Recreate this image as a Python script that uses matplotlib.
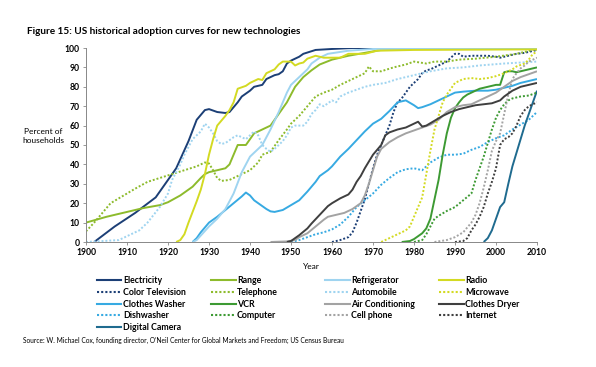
import matplotlib
matplotlib.use("Agg")
import matplotlib.pyplot as plt
from matplotlib.lines import Line2D

# ---------------- data ----------------
electricity_years = [1902, 1907, 1912, 1917, 1920, 1922, 1925, 1927, 1929, 1930, 1932, 1934, 1935, 1937, 1938, 1940, 1941, 1943, 1944, 1946, 1947, 1948, 1949, 1950, 1952, 1953, 1956, 1960, 1965, 2010]
electricity_vals = [0, 8, 15, 23, 32, 38, 52, 63, 68, 68.5, 67, 66.5, 67, 72, 75, 78, 80, 81, 84, 86, 86.5, 88, 92, 93.5, 95.5, 97, 99, 99.5, 100, 100]

color_tv_years = [1960, 1962, 1964, 1965, 1966, 1967, 1968, 1969, 1970, 1971, 1972, 1973, 1974, 1975, 1976, 1977, 1978, 1979, 1980, 1981, 1982, 1983, 1984, 1985, 1986, 1987, 1988, 1989, 1990, 1991, 1992, 1994, 1996, 1998, 2000, 2001, 2003, 2005, 2007, 2009, 2010]
color_tv_vals = [0, 1, 2.5, 5, 10, 16, 22, 30, 38, 45, 50, 55, 60, 67, 72, 74, 77, 80, 82, 84, 87, 88.5, 89, 90, 91, 92, 93, 95, 97, 97, 95.5, 96, 96, 96, 95.5, 95, 96, 97, 97.5, 98.5, 99]

range_years = [1900, 1905, 1910, 1914, 1918, 1920, 1923, 1926, 1928, 1929, 1930, 1932, 1934, 1935, 1937, 1939, 1940, 1941, 1943, 1945, 1947, 1949, 1951, 1953, 1955, 1957, 1960, 1964, 1968, 1972, 1980, 2010]
range_vals = [10, 13, 15.5, 17.5, 19, 20.5, 24, 28.5, 33, 35, 36, 37, 38, 40, 50, 50, 53, 56, 58, 60, 66, 72, 80, 85, 88.5, 91.5, 94, 96, 97.5, 99, 99.5, 100]

telephone_years = [1900, 1902, 1904, 1906, 1908, 1910, 1912, 1915, 1918, 1921, 1924, 1927, 1929, 1930, 1931, 1932, 1933, 1935, 1937, 1940, 1942, 1943, 1945, 1947, 1949, 1950, 1952, 1954, 1956, 1958, 1960, 1962, 1964, 1966, 1968, 1969, 1970, 1972, 1975, 1978, 1980, 1983, 1985, 1988, 1991, 1995, 2000, 2005, 2009, 2010]
telephone_vals = [5.5, 10, 15, 20, 22.5, 25, 27.5, 31, 33, 35, 37, 39, 41, 40.5, 37, 33, 31.5, 32, 34, 37, 41, 45, 46.5, 52.5, 58, 61, 65, 70, 75, 77, 78.5, 81, 83, 85, 87, 90.5, 88, 88, 90, 91.5, 93, 92, 93, 93, 94, 94.5, 95.5, 97, 99, 99]

refrigerator_years = [1926, 1927, 1930, 1932, 1934, 1936, 1938, 1940, 1942, 1943, 1945, 1947, 1949, 1950, 1952, 1954, 1955, 1957, 1959, 1964, 1970, 2010]
refrigerator_vals = [0, 1, 8, 12, 17, 25, 36, 44, 48, 50, 58, 67, 77, 81, 85, 89, 92, 95, 97, 98.6, 99.5, 100]

automobile_years = [1900, 1908, 1911, 1913, 1915, 1918, 1920, 1921, 1923, 1924, 1926, 1928, 1929, 1930, 1931, 1932, 1933, 1934, 1936, 1937, 1938, 1939, 1940, 1941, 1942, 1943, 1944, 1945, 1946, 1947, 1948, 1949, 1950, 1951, 1953, 1954, 1955, 1956, 1957, 1958, 1960, 1961, 1962, 1964, 1966, 1968, 1970, 1973, 1976, 1980, 1984, 1988, 1992, 1996, 2002, 2010]
automobile_vals = [0, 1, 4, 6, 10, 18, 25, 32, 40, 45, 53, 57, 61, 59, 56, 52, 50.5, 51, 54, 55, 54, 53, 55, 57, 55, 50, 48, 46.5, 48, 50, 52, 55, 59, 60, 60, 62, 66, 68, 71, 70, 73, 72, 75, 77, 78.5, 80, 81, 82, 84, 86, 88, 89.5, 90, 91, 92, 93]

radio_years = [1922, 1923, 1924, 1925, 1927, 1928, 1929, 1930, 1931, 1932, 1934, 1935, 1936, 1937, 1939, 1940, 1942, 1943, 1944, 1945, 1946, 1947, 1948, 1950, 1951, 1952, 1953, 1954, 1956, 1958, 1960, 1962, 1964, 1968, 1971, 1980, 2010]
radio_vals = [0, 1, 4, 10, 21, 27, 35, 45, 53, 60, 65, 68, 72, 79, 80.5, 82, 84, 83.5, 87, 88, 89, 91.5, 93, 93, 91, 92, 92.5, 94.5, 96, 95, 95, 95, 97, 97, 98.6, 99, 99.3]

microwave_years = [1972, 1975, 1978, 1979, 1980, 1981, 1982, 1983, 1984, 1985, 1986, 1987, 1988, 1989, 1990, 1992, 1994, 1996, 1998, 2000, 2002, 2004, 2005, 2007, 2008, 2009, 2010]
microwave_vals = [0, 3, 6, 8, 13, 18, 23, 35, 47, 58, 65, 72, 76, 79, 82, 84, 84.5, 84, 84.5, 85.5, 87, 89, 90.5, 92, 94, 97, 98]

washer_years = [1926, 1927, 1928, 1930, 1932, 1934, 1936, 1938, 1939, 1940, 1941, 1942, 1944, 1945, 1946, 1947, 1948, 1950, 1952, 1954, 1956, 1957, 1959, 1960, 1962, 1964, 1966, 1968, 1970, 1972, 1974, 1976, 1978, 1980, 1981, 1982, 1984, 1986, 1988, 1990, 1992, 1995, 1998, 2000, 2002, 2004, 2006, 2008, 2010]
washer_vals = [0, 2, 5, 10, 13, 16.5, 20, 23.5, 25.5, 24, 21.5, 20, 17, 15.8, 15.5, 16, 16.5, 19, 21.5, 26, 31, 34, 37, 39, 44, 48, 52.5, 57, 61, 63.5, 67.5, 72, 73, 70.5, 69, 69.5, 71, 73, 75, 77, 77.5, 78, 78, 78.5, 79.5, 80.5, 82, 83, 84]

vcr_years = [1977, 1979, 1980, 1981, 1982, 1983, 1984, 1985, 1986, 1987, 1988, 1989, 1990, 1991, 1992, 1993, 1994, 1996, 1998, 2000, 2001, 2002, 2003, 2004, 2005, 2006, 2008, 2010]
vcr_vals = [0, 0.5, 1.5, 3, 4.5, 7, 12, 22, 32, 45, 56, 64, 69, 72, 74.5, 76, 77, 79, 80, 81, 81, 87.5, 88, 88, 87.5, 88, 89, 90]

ac_years = [1945, 1949, 1951, 1952, 1954, 1956, 1958, 1959, 1961, 1963, 1965, 1967, 1968, 1969, 1970, 1971, 1972, 1974, 1976, 1978, 1980, 1982, 1984, 1986, 1988, 1990, 1992, 1994, 1996, 1998, 2000, 2002, 2004, 2006, 2008, 2010]
ac_vals = [0, 0.3, 1, 2.5, 4.5, 8, 11.5, 13, 14, 15, 17, 20, 24, 30, 37, 44, 48, 51.5, 54, 56, 57.5, 59, 60.5, 63, 67, 69.5, 70.5, 71, 73, 75, 77, 80, 83, 85, 86.5, 88]

dryer_years = [1949, 1950, 1952, 1954, 1955, 1957, 1959, 1960, 1962, 1964, 1965, 1966, 1967, 1968, 1970, 1972, 1973, 1974, 1976, 1978, 1980, 1981, 1982, 1983, 1985, 1987, 1989, 1991, 1993, 1995, 1997, 1999, 2001, 2002, 2004, 2006, 2008, 2010]
dryer_vals = [0, 0.5, 3.5, 7, 9.5, 14, 18.5, 20, 22.5, 24.5, 27, 31, 34, 38, 45, 50, 55, 56.5, 58, 59, 61, 62, 59.5, 60, 62.5, 65, 67, 68.5, 69.5, 70.5, 71, 71.5, 73, 75, 78, 80, 81, 82]

dishwasher_years = [1950, 1952, 1954, 1956, 1958, 1960, 1962, 1964, 1966, 1968, 1970, 1972, 1974, 1976, 1978, 1980, 1982, 1984, 1986, 1988, 1990, 1992, 1994, 1996, 1998, 2000, 2002, 2004, 2006, 2008, 2010]
dishwasher_vals = [0, 1, 2.5, 4, 5, 6.5, 9, 13, 18, 21.5, 25, 29.5, 33, 36, 37.5, 38, 37, 41, 43.5, 45, 45, 45.5, 47.5, 49, 51.5, 53.5, 55, 58, 60.5, 63, 67]

computer_years = [1980, 1982, 1983, 1984, 1985, 1986, 1988, 1990, 1992, 1994, 1995, 1996, 1997, 1998, 1999, 2000, 2001, 2002, 2003, 2004, 2006, 2008, 2010]
computer_vals = [0, 1, 4, 8, 12, 13.5, 16, 18, 21.5, 25, 32, 38, 44, 51, 58, 64, 68, 71, 73, 74, 75, 75.5, 77]

cellphone_years = [1985, 1988, 1990, 1992, 1994, 1995, 1996, 1997, 1998, 1999, 2000, 2001, 2002, 2003, 2004, 2005, 2006, 2007, 2008, 2009, 2010]
cellphone_vals = [0, 1, 2.5, 5, 10, 14, 20, 28, 37, 47, 52, 56, 66, 76, 84, 87, 89.5, 91, 93, 94, 95]

internet_years = [1990, 1992, 1993, 1994, 1995, 1996, 1997, 1998, 1999, 2000, 2001, 2002, 2003, 2004, 2005, 2006, 2007, 2008, 2010]
internet_vals = [0, 0.5, 2, 6, 9, 13, 18, 25, 31, 38, 50, 53, 54, 56, 60, 65, 68, 70, 72]

camera_years = [1997, 1998, 1999, 2000, 2001, 2002, 2003, 2004, 2005, 2006, 2007, 2008, 2009, 2010]
camera_vals = [0, 2, 6, 12, 18, 20.5, 30, 39, 46, 53, 60, 66, 72, 78]

x_ticks = [1900, 1910, 1920, 1930, 1940, 1950, 1960, 1970, 1980, 1990, 2000, 2010]
y_ticks = [0, 10, 20, 30, 40, 50, 60, 70, 80, 90, 100]

# ---------------- styles ----------------
NAVY = "#1c3f76"
YGREEN = "#8dbb2c"
LBLUE = "#9fd4f0"
YELLOW = "#d3da22"
BLUE = "#37aae2"
GREEN = "#3d9a33"
GRAY = "#a3a3a3"
DGRAY = "#3f3f3f"
TEAL = "#1f6b8f"
DOT = (0, (1, 1))

series = [
    ("Electricity", electricity_years, electricity_vals, NAVY, "-"),
    ("Color Television", color_tv_years, color_tv_vals, NAVY, DOT),
    ("Clothes Washer", washer_years, washer_vals, BLUE, "-"),
    ("Dishwasher", dishwasher_years, dishwasher_vals, BLUE, DOT),
    ("Digital Camera", camera_years, camera_vals, TEAL, "-"),
    ("Range", range_years, range_vals, YGREEN, "-"),
    ("Telephone", telephone_years, telephone_vals, YGREEN, DOT),
    ("VCR", vcr_years, vcr_vals, GREEN, "-"),
    ("Computer", computer_years, computer_vals, GREEN, DOT),
    ("Refrigerator", refrigerator_years, refrigerator_vals, LBLUE, "-"),
    ("Automobile", automobile_years, automobile_vals, LBLUE, DOT),
    ("Air Conditioning", ac_years, ac_vals, GRAY, "-"),
    ("Cell phone", cellphone_years, cellphone_vals, GRAY, DOT),
    ("Radio", radio_years, radio_vals, YELLOW, "-"),
    ("Microwave", microwave_years, microwave_vals, YELLOW, DOT),
    ("Clothes Dryer", dryer_years, dryer_vals, DGRAY, "-"),
    ("Internet", internet_years, internet_vals, DGRAY, DOT),
]

plt.rcParams["font.family"] = ["Lato", "DejaVu Sans"]

fig = plt.figure(figsize=(5.96, 3.67), dpi=100)
ax = fig.add_axes([86 / 596, 125 / 367, 451 / 596, 194 / 367])

styles = {}
for name, xs, ys, col, ls in series:
    ax.plot(xs, ys, color=col, linestyle=ls, linewidth=1.4,
            solid_joinstyle="round", solid_capstyle="butt")
    styles[name] = (col, ls)

ax.set_xlim(1900, 2010)
ax.set_ylim(0, 100)
ax.set_xticks(x_ticks)
ax.set_yticks(y_ticks)
ax.tick_params(axis="both", direction="out", length=2.5, width=0.6, color="#888888",
               labelsize=6.2, pad=2)
for lbl in ax.get_xticklabels() + ax.get_yticklabels():
    lbl.set_fontweight("bold")
for s in ["top", "right"]:
    ax.spines[s].set_visible(False)
for s in ["left", "bottom"]:
    ax.spines[s].set_color("#888888")
    ax.spines[s].set_linewidth(0.7)

ax.set_xlabel("Year", fontsize=6, labelpad=4)

fig.text(43 / 596, 1 - 136 / 367, "Percent of\nhouseholds", ha="center", va="center",
         fontsize=6, linespacing=1.3)

fig.text(27 / 596, 1 - 32 / 367,
         "Figure 15: US historical adoption curves for new technologies",
         ha="left", va="center", fontsize=7.2, fontweight="bold")

fig.text(23 / 596, 1 - 340 / 367,
         "Source: W. Michael Cox, founding director, O\u2019Neil Center for Global Markets and Freedom; US Census Bureau",
         ha="left", va="center", fontsize=4.8)

columns = [
    ["Electricity", "Color Television", "Clothes Washer", "Dishwasher", "Digital Camera"],
    ["Range", "Telephone", "VCR", "Computer"],
    ["Refrigerator", "Automobile", "Air Conditioning", "Cell phone"],
    ["Radio", "Microwave", "Clothes Dryer", "Internet"],
]
col_x = [97, 211, 325, 439]
for cx, names in zip(col_x, columns):
    hs = []
    for n in names:
        col, ls = styles[n]
        hs.append(Line2D([], [], color=col, linestyle=ls, linewidth=1.5))
    leg = fig.legend(hs, names, loc="upper left", bbox_to_anchor=(cx / 596, 1 - 276 / 367),
                     frameon=False, borderpad=0, borderaxespad=0, fontsize=6.3,
                     handlelength=2.8, handletextpad=0.15, labelspacing=0.32)
    for t in leg.get_texts():
        t.set_fontweight("bold")

fig.savefig("out.png", dpi=100)
